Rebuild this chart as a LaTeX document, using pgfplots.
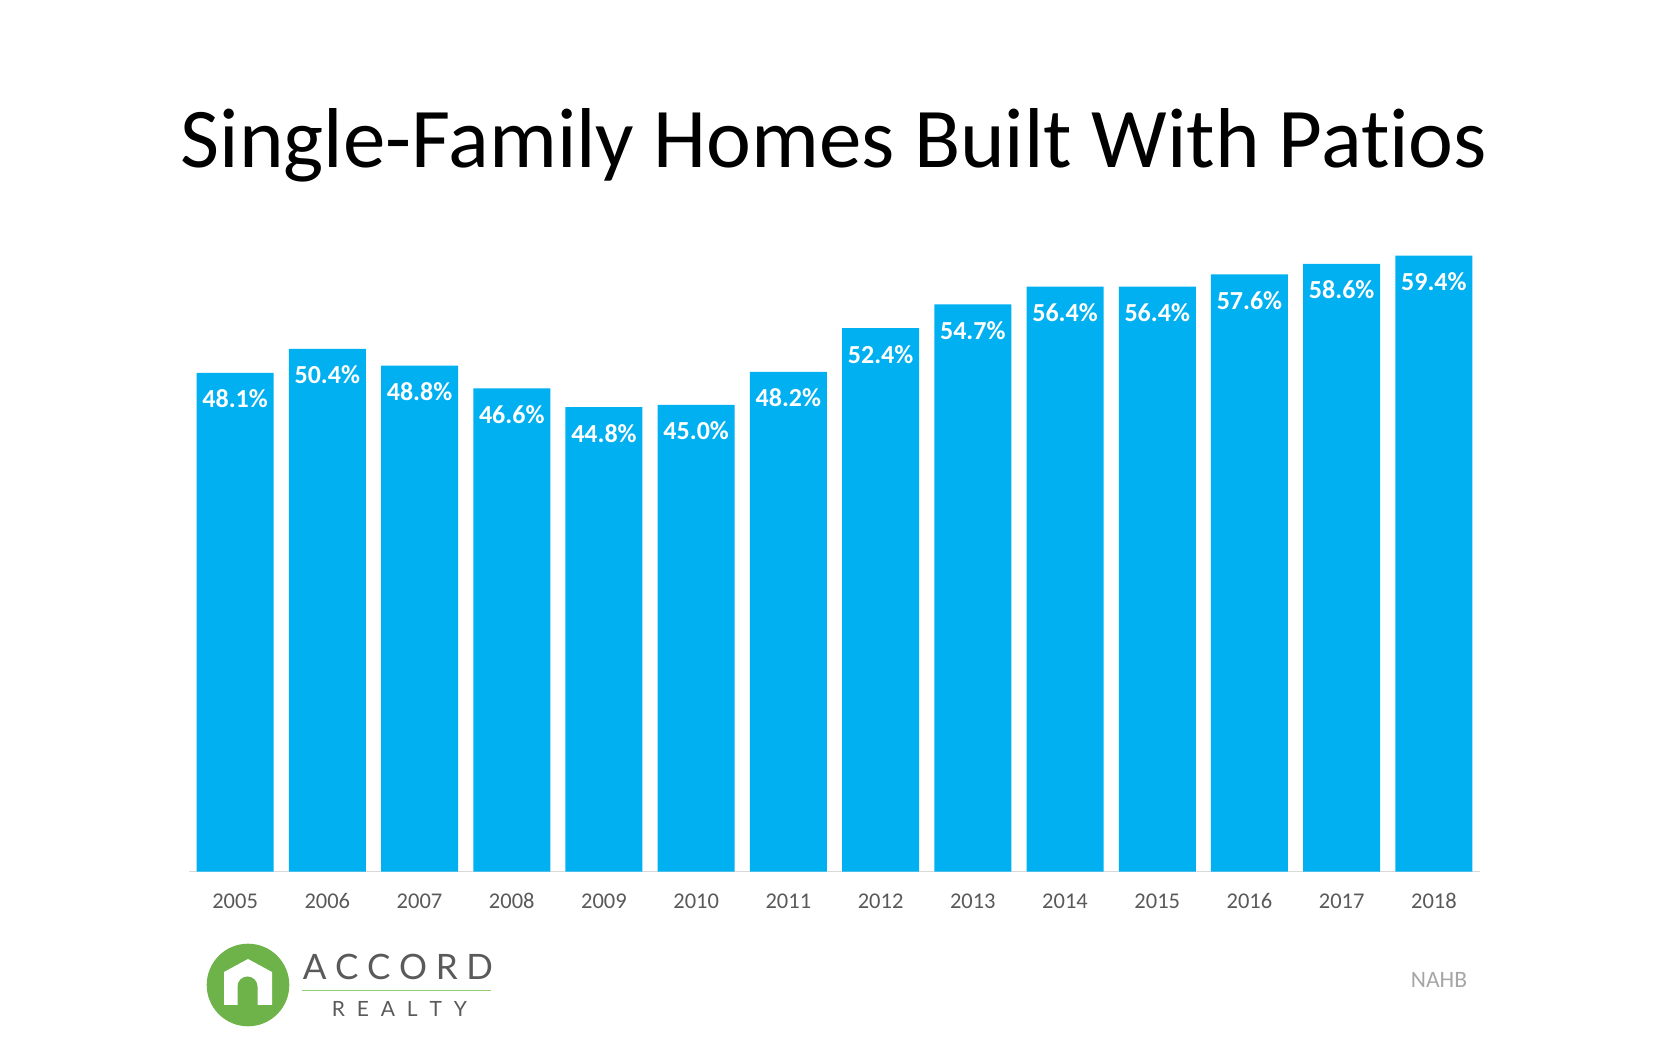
\documentclass[border=0pt]{standalone}
\usepackage{fontspec}
\setmainfont{Carlito}[Ligatures=NoCommon]
\newfontfamily\logofont{Lato}
\usepackage{pgfplots}
\pgfplotsset{compat=1.18}
\definecolor{barblue}{HTML}{00B0F0}
\definecolor{axgray}{HTML}{D9D9D9}
\definecolor{ticktext}{HTML}{595959}
\definecolor{srcgray}{HTML}{A6A6A6}
\definecolor{logogreen}{HTML}{6DB34A}
\definecolor{linegreen}{HTML}{92CC6E}
\definecolor{logogray}{HTML}{5A5A5A}
\pgfplotstableread{
x y l
0 48.1 48.1
1 50.4 50.4
2 48.8 48.8
3 46.6 46.6
4 44.8 44.8
5 45.0 45.0
6 48.2 48.2
7 52.4 52.4
8 54.7 54.7
9 56.4 56.4
10 56.4 56.4
11 57.6 57.6
12 58.6 58.6
13 59.4 59.4
}\patios
\begin{document}
\begin{tikzpicture}[x=1pt,y=1pt]
\useasboundingbox (0,0) rectangle (1680,1040);
\begin{axis}[
  at={(189pt,168.3pt)}, anchor=south west,
  scale only axis, width=1291pt, height=726pt,
  xmin=-0.5, xmax=13.5, ymin=0, ymax=70,
  axis y line=none, axis x line*=bottom,
  x axis line style={draw=axgray, line width=1.5pt},
  xtick=data,
  xticklabels={2005,2006,2007,2008,2009,2010,2011,2012,2013,2014,2015,2016,2017,2018},
  major tick length=0pt, xtick style={draw=none},
  xticklabel style={font=\fontsize{22.5}{24}\selectfont, text=ticktext, inner sep=0pt, anchor=base, yshift=-37.3pt},
  ybar, bar width=77pt, clip=false,
]
\addplot[fill=barblue, draw=none, point meta=explicit symbolic,
  nodes near coords={\pgfplotspointmeta\%},
  every node near coord/.append style={font=\fontsize{26}{28}\bfseries\selectfont, text=white, anchor=base, inner sep=0pt, yshift=-35pt}]
  table[x=x, y=y, meta=l] {\patios};
\end{axis}
\node[anchor=base, font=\fontsize{85}{96}\selectfont] at (834,872.7) {Single-Family Homes Built With Patios};
% source
\node[anchor=base west, inner sep=0pt, text=srcgray, font=\fontsize{23.5}{25}\selectfont] at (1410.7,52) {NAHB};
% logo
\fill[logogreen] (248,55) circle (41.3);
\fill[white] (224,35) -- (224,68) -- (248,81) -- (272,68) -- (272,35) -- cycle;
\fill[logogreen] (237.5,35) -- (237.5,53.5) arc (180:0:10) -- (257.5,35) -- cycle;
\node[anchor=base west, inner sep=0pt, text=logogray, font=\logofont\fontsize{35}{36}\selectfont] at (302.7,60) {\makebox[190pt][s]{A\hfill C\hfill C\hfill O\hfill R\hfill D}};
\draw[linegreen, line width=1.6pt] (302,49.3) -- (490.7,49.3);
\node[anchor=base west, inner sep=0pt, text=logogray, font=\logofont\fontsize{21}{22}\selectfont] at (331.7,23.3) {\makebox[135pt][s]{R\hfill E\hfill A\hfill L\hfill T\hfill Y}};
\end{tikzpicture}
\end{document}
